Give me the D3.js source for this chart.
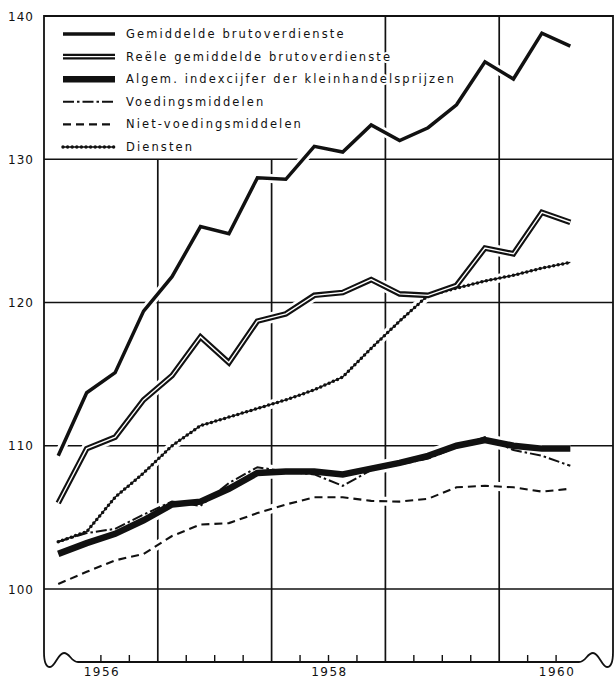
<!DOCTYPE html>
<html>
<head>
<meta charset="utf-8">
<script src="https://cdn.jsdelivr.net/npm/d3@7"></script>
<style>
  body { margin: 0; background: #fff; }
  svg { display: block; }
  text { font-family: "DejaVu Sans", sans-serif; fill: #111; }
</style>
</head>
<body>
<svg width="614" height="679"></svg>
<script>
// kwartalen 1956 I .. 1960 III
var kwartalen = ["1956 I", "1956 II", "1956 III", "1956 IV",
                 "1957 I", "1957 II", "1957 III", "1957 IV",
                 "1958 I", "1958 II", "1958 III", "1958 IV",
                 "1959 I", "1959 II", "1959 III", "1959 IV",
                 "1960 I", "1960 II", "1960 III"];
var jaren = [1956, 1957, 1958, 1959, 1960];
var jaarLabels = ["1956", "1958", "1960"];
var yTicks = [100, 110, 120, 130, 140];

var gemiddelde = [109.3, 113.7, 115.1, 119.4, 121.8, 125.3, 124.8, 128.7, 128.6, 130.9,
                  130.5, 132.4, 131.3, 132.2, 133.8, 136.8, 135.6, 138.8, 137.9];
var reele      = [106.0, 109.8, 110.6, 113.2, 114.9, 117.6, 115.8, 118.7, 119.2, 120.5,
                  120.7, 121.6, 120.6, 120.5, 121.2, 123.8, 123.4, 126.3, 125.6];
var algemeen   = [102.45, 103.2, 103.85, 104.8, 105.9, 106.1, 107.0, 108.1, 108.2, 108.2,
                  108.0, 108.4, 108.8, 109.3, 110.0, 110.4, 110.0, 109.8, 109.8];
var voeding    = [103.3, 103.9, 104.2, 105.2, 106.1, 105.8, 107.4, 108.5, 108.2, 108.0,
                  107.2, 108.3, 108.7, 109.1, 109.9, 110.6, 109.7, 109.3, 108.6];
var nietVoeding = [100.35, 101.2, 102.0, 102.45, 103.7, 104.5, 104.6, 105.3, 105.9, 106.4,
                   106.4, 106.15, 106.1, 106.3, 107.1, 107.2, 107.1, 106.8, 107.0];
var diensten   = [103.3, 104.0, 106.4, 108.1, 110.0, 111.4, 112.0, 112.6, 113.2, 113.9,
                  114.8, 116.8, 118.7, 120.5, 121.0, 121.5, 121.9, 122.4, 122.8];

var reeksen = [
  {naam: "Gemiddelde brutoverdienste", data: gemiddelde, stijl: "gem"},
  {naam: "Reële gemiddelde brutoverdienste", data: reele, stijl: "reeel"},
  {naam: "Algem. indexcijfer der kleinhandelsprijzen", data: algemeen, stijl: "alg"},
  {naam: "Voedingsmiddelen", data: voeding, stijl: "voed"},
  {naam: "Niet-voedingsmiddelen", data: nietVoeding, stijl: "niet"},
  {naam: "Diensten", data: diensten, stijl: "dienst"}
];

var svg = d3.select("svg");
var x = d3.scaleLinear().domain([0, 20]).range([44, 613]);   // kwartalen vanaf 1956 I
var y = d3.scaleLinear().domain([100, 140]).range([589, 16]);
var yBodem = 662;

// tekent een reeks in de juiste stijl
function tekenLijn(g, d, stijl) {
  if (stijl == "gem") {
    g.append("path").attr("d", d).attr("fill", "none").attr("stroke", "#111").attr("stroke-width", 3.5);
  } else if (stijl == "reeel") {
    g.append("path").attr("d", d).attr("fill", "none").attr("stroke", "#111").attr("stroke-width", 5.6);
    g.append("path").attr("d", d).attr("fill", "none").attr("stroke", "#fff").attr("stroke-width", 1.4);
  } else if (stijl == "alg") {
    g.append("path").attr("d", d).attr("fill", "none").attr("stroke", "#111").attr("stroke-width", 6.5);
  } else if (stijl == "voed") {
    g.append("path").attr("d", d).attr("fill", "none").attr("stroke", "#111").attr("stroke-width", 2)
      .attr("stroke-dasharray", "11,3,2.5,3");
  } else if (stijl == "niet") {
    g.append("path").attr("d", d).attr("fill", "none").attr("stroke", "#111").attr("stroke-width", 2.1)
      .attr("stroke-dasharray", "8,5");
  } else if (stijl == "dienst") {
    g.append("path").attr("d", d).attr("fill", "none").attr("stroke", "#111").attr("stroke-width", 1.4);
    g.append("path").attr("d", d).attr("fill", "none").attr("stroke", "#111").attr("stroke-width", 3.5)
      .attr("stroke-linecap", "round").attr("stroke-dasharray", "0,4.6");
  }
}

// RASTER
var raster = svg.append("g").attr("stroke", "#111").attr("stroke-width", 1.7);
yTicks.slice(0, 4).forEach(function(v) {
  raster.append("line").attr("x1", x(0)).attr("x2", x(20)).attr("y1", y(v)).attr("y2", y(v));
});
jaren.slice(1).forEach(function(j, n) {
  var q = (n + 1) * 4;
  var top = q <= 8 ? y(130) : y(140);   // geen lijnen achter de legenda
  raster.append("line").attr("x1", x(q)).attr("x2", x(q)).attr("y1", top).attr("y2", yBodem);
});
// kwartaalstreepjes
d3.range(2, 19).forEach(function(q) {
  if (q % 4 != 0) {
    raster.append("line").attr("x1", x(q)).attr("x2", x(q)).attr("y1", yBodem).attr("y2", yBodem - 7)
      .attr("stroke-width", 1.4);
  }
});
// kader met onderbrekingsteken onderaan
var l = x(0), r = x(20), t = y(140);
raster.append("path").attr("fill", "none").attr("stroke-width", 1.8)
  .attr("d", "M" + l + "," + t + "H" + r + "V652" +
    "C" + r + ",662 " + (r - 2) + ",667 " + (r - 6) + ",667" +
    "C" + (r - 11) + ",667 " + (r - 14) + ",653 " + (r - 20) + ",653" +
    "C" + (r - 26) + ",653 " + (r - 27) + "," + yBodem + " " + (r - 34) + "," + yBodem +
    "H" + (l + 34) +
    "C" + (l + 27) + "," + yBodem + " " + (l + 26) + ",653 " + (l + 20) + ",653" +
    "C" + (l + 14) + ",653 " + (l + 11) + ",667 " + (l + 6) + ",667" +
    "C" + (l + 2) + ",667 " + l + ",662 " + l + ",652Z");

// AS-LABELS
svg.append("g").selectAll("text").data(yTicks).enter().append("text")
  .attr("x", 34).attr("y", function(d) { return y(d) + 4.5; })
  .attr("text-anchor", "end").attr("font-size", 12).attr("letter-spacing", 1)
  .text(function(d) { return d; });
svg.append("g").selectAll("text").data(jaarLabels).enter().append("text")
  .attr("x", function(d) { return x((+d - 1956) * 4 + 2) + 1; })
  .attr("y", 676).attr("text-anchor", "middle").attr("font-size", 12).attr("letter-spacing", 1.5)
  .text(function(d) { return d; });

// LIJNEN
var lijn = d3.line().x(function(d, i) { return x(i + 0.5); }).y(function(d) { return y(d); });
var halo = svg.append("g");
var lijnen = svg.append("g");
reeksen.forEach(function(s) {
  var breedte = s.stijl == "alg" ? 13 : (s.stijl == "reeel" ? 11 : 9);
  halo.append("path").attr("d", lijn(s.data)).attr("fill", "none")
    .attr("stroke", "#fff").attr("stroke-width", breedte);
});
reeksen.slice().reverse().forEach(function(s) {
  tekenLijn(lijnen, lijn(s.data), s.stijl);
});

// LEGENDA
var legenda = svg.append("g");
reeksen.forEach(function(s, n) {
  var ly = 34 + n * 22.6;
  tekenLijn(legenda, "M63," + ly + "H115", s.stijl);
  legenda.append("text").attr("x", 126).attr("y", ly + 4)
    .attr("font-size", 11.5).attr("letter-spacing", 2.1)
    .attr("stroke", "#fff").attr("stroke-width", 4).attr("paint-order", "stroke")
    .text(s.naam);
});
</script>
</body>
</html>
